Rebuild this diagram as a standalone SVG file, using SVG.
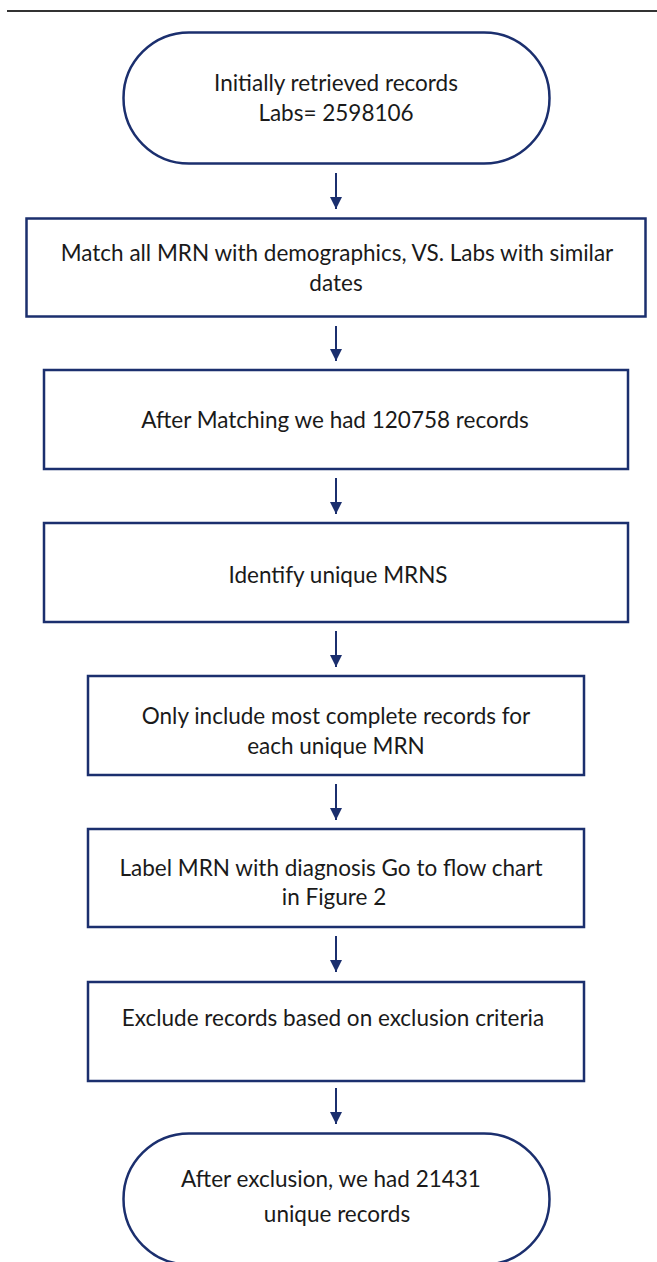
<svg xmlns="http://www.w3.org/2000/svg" width="657" height="1262" viewBox="0 0 657 1262">
  <style>
    .box { fill: #ffffff; stroke: #1b2f6e; stroke-width: 2.5; }
    .lbl { font-family: Lato, "Open Sans", "Liberation Sans", sans-serif; font-size: 22.5px; fill: #1a1a1a; text-anchor: middle; }
    .conn { stroke: #1b2f6e; stroke-width: 2; fill: none; }
  </style>
  <defs>
    <!-- solid triangular arrowhead, tip at the end of the line -->
    <marker id="head" markerWidth="13" markerHeight="13" refX="12" refY="6.5" orient="auto" markerUnits="userSpaceOnUse" viewBox="0 0 13 13">
      <path d="M0,0.5 L12,6.5 L0,12.5 Z" fill="#1b2f6e"/>
    </marker>
  </defs>

  <rect width="657" height="1262" fill="#ffffff"/>
  <!-- page rule -->
  <line x1="7" y1="11" x2="657" y2="11" stroke="#333333" stroke-width="2"/>

  <g id="n-retrieved">
    <rect class="box" x="123.5" y="32.5" width="426" height="131" rx="65.5" ry="65.5"/>
    <text class="lbl" x="336" y="91">Initially retrieved records</text>
    <text class="lbl" x="336" y="121">Labs= 2598106</text>
  </g>

  <g id="n-match">
    <rect class="box" x="26.5" y="218.5" width="619" height="98"/>
    <text class="lbl" x="337" y="261">Match all MRN with demographics, VS. Labs with similar</text>
    <text class="lbl" x="336" y="291">dates</text>
  </g>

  <g id="n-matched">
    <rect class="box" x="44" y="370" width="584" height="99"/>
    <text class="lbl" x="335" y="428">After Matching we had 120758 records</text>
  </g>

  <g id="n-unique">
    <rect class="box" x="44" y="523" width="584" height="99"/>
    <text class="lbl" x="338" y="583">Identify unique MRNS</text>
  </g>

  <g id="n-complete">
    <rect class="box" x="88" y="676" width="496" height="99"/>
    <text class="lbl" x="336" y="724">Only include most complete records for</text>
    <text class="lbl" x="336" y="754">each unique MRN</text>
  </g>

  <g id="n-label">
    <rect class="box" x="88" y="829" width="496" height="98"/>
    <text class="lbl" x="331" y="876">Label MRN with diagnosis Go to flow chart</text>
    <text class="lbl" x="334" y="905">in Figure 2</text>
  </g>

  <g id="n-exclude">
    <rect class="box" x="88" y="982" width="496" height="99"/>
    <text class="lbl" x="333" y="1026">Exclude records based on exclusion criteria</text>
  </g>

  <g id="n-final">
    <rect class="box" x="123.5" y="1133.5" width="426" height="131" rx="65.5" ry="65.5"/>
    <text class="lbl" x="331" y="1187">After exclusion, we had 21431</text>
    <text class="lbl" x="337" y="1222">unique records</text>
  </g>

  <g id="connectors">
    <line class="conn" x1="336" y1="173" x2="336" y2="209" marker-end="url(#head)"/>
    <line class="conn" x1="336" y1="326" x2="336" y2="361" marker-end="url(#head)"/>
    <line class="conn" x1="336" y1="478" x2="336" y2="514" marker-end="url(#head)"/>
    <line class="conn" x1="336" y1="631" x2="336" y2="667" marker-end="url(#head)"/>
    <line class="conn" x1="336" y1="784" x2="336" y2="820" marker-end="url(#head)"/>
    <line class="conn" x1="336" y1="936" x2="336" y2="972" marker-end="url(#head)"/>
    <line class="conn" x1="336" y1="1088" x2="336" y2="1124" marker-end="url(#head)"/>
  </g>
</svg>
